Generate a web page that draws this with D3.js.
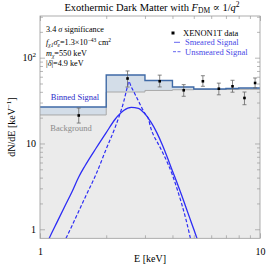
<!DOCTYPE html>
<html><head><meta charset="utf-8">
<script src="https://cdn.jsdelivr.net/npm/d3@7"></script>
<style>
body{margin:0;background:#fff}
svg text{font-family:"Liberation Serif","DejaVu Serif",serif}
</style></head>
<body><svg id="c" width="266" height="265"></svg>
<script>
// ---- data ----
const binEdges = [1,2,3,4,5,6,7,8,9,10];
const totalCounts = [26.6,62.9,54.2,45.6,43.2,43.2,43.7,44.3,44.3];
const bkgCounts   = [21.5,39.8,41.5,42.3,42.6,42.6,42.6,42.8,42.8];
const dataE   = [1.5,2.5,3.5,4.5,5.5,6.5,7.5,8.5,9.5];
const dataVal = [21.2,57.2,53.1,41.7,53.1,43.5,46.4,33.9,50.7];
const dataLo  = [17.3,45.5,45.6,35.5,46.4,36.9,39.6,28.3,44.4];
const dataHi  = [25.9,70.0,62.6,48.5,61.6,50.5,54.5,39.8,58.0];
const smearE   = [1.05,1.1,1.2,1.3,1.4,1.5,1.6,1.8,2.0,2.2,2.4,2.6,2.8,3.0,3.2,3.4,3.6,3.8,4.0,4.2,4.4,4.6,4.8,5.0,5.2,5.4];
const smearVal = [0.6,0.78,1.236,1.88,2.76,4.07,5.47,8.86,13.4,19.3,24.2,26.3,25.7,22.1,17.6,13.3,9.6,6.78,4.78,3.46,2.51,1.82,1.34,1.0,0.75,0.55];
const unsmE   = [1.25,1.3,1.4,1.5,1.6,1.8,2.0,2.2,2.3,2.4,2.5,2.53,2.6,2.7,2.8,3.0,3.1,3.2,3.3,3.4,3.6,3.8,4.0,4.2,4.4,4.6,4.8,4.9,5.0];
const unsmVal = [0.6,0.744,1.11,1.625,2.32,4.41,8.63,15.6,21.5,30.5,46.8,52.8,45.6,37.8,31.3,22.3,19.8,14.7,12.1,10.55,7.96,5.93,4.29,2.95,2.0,1.32,0.835,0.656,0.5];
const xMajor = [1,10];
const xMinor = [2,3,4,5,6,7,8,9];
const yMajor = [1,10,100];
const yMinor = [2,3,4,5,6,7,8,9,20,30,40,50,60,70,80,90,200,300];

// ---- layout ----
const L=40,R=260,T=16,B=238.3;
const svg=d3.select('#c');
const x=d3.scaleLog().domain([1,10]).range([L,R]);
const y=d3.scaleLog().domain([0.785,306]).range([B,T]);

svg.append('defs').append('clipPath').attr('id','clip')
  .append('rect').attr('x',L).attr('y',T).attr('width',R-L).attr('height',B-T);
const g=svg.append('g').attr('clip-path','url(#clip)');

const stepData=(vals)=>binEdges.map((e,i)=>({e,v:vals[Math.min(i,vals.length-1)]}));
const tot=stepData(totalCounts), bkg=stepData(bkgCounts);

// gray below background
g.append('path').datum(bkg)
 .attr('d',d3.area().curve(d3.curveStepAfter).x(d=>x(d.e)).y0(B+5).y1(d=>y(d.v)))
 .attr('fill','#ebebeb');
// blue between background and total
const both=binEdges.map((e,i)=>({e,t:tot[i].v,b:bkg[i].v}));
g.append('path').datum(both)
 .attr('d',d3.area().curve(d3.curveStepAfter).x(d=>x(d.e)).y0(d=>y(d.b)).y1(d=>y(d.t)))
 .attr('fill','#d3dde8');
g.append('path').datum(bkg)
 .attr('d',d3.line().curve(d3.curveStepAfter).x(d=>x(d.e)).y(d=>y(d.v)))
 .attr('fill','none').attr('stroke','#a8a8a8').attr('stroke-width',1);
g.append('path').datum(tot)
 .attr('d',d3.line().curve(d3.curveStepAfter).x(d=>x(d.e)).y(d=>y(d.v)))
 .attr('fill','none').attr('stroke','#3f6aa6').attr('stroke-width',1.4);

// curves
const cl=d3.line().curve(d3.curveMonotoneX).x(d=>x(d[0])).y(d=>y(d[1]));
g.append('path').datum(smearE.map((e,i)=>[e,smearVal[i]]))
 .attr('d',cl).attr('fill','none').attr('stroke','#2d2df5').attr('stroke-width',1.3);
g.append('path').datum(unsmE.map((e,i)=>[e,unsmVal[i]]))
 .attr('d',cl).attr('fill','none').attr('stroke','#2d2df5').attr('stroke-width',1.2)
 .attr('stroke-dasharray','3.5,2');

// data points
const pts=g.append('g');
dataE.forEach((e,i)=>{
  const cx=x(e);
  pts.append('line').attr('x1',cx).attr('x2',cx).attr('y1',y(dataLo[i])).attr('y2',y(dataHi[i]))
    .attr('stroke','#666').attr('stroke-width',0.8);
  [dataLo[i],dataHi[i]].forEach(v=>pts.append('line').attr('x1',cx-2).attr('x2',cx+2)
    .attr('y1',y(v)).attr('y2',y(v)).attr('stroke','#666').attr('stroke-width',0.8));
  pts.append('rect').attr('x',cx-1.3).attr('y',y(dataVal[i])-1.3).attr('width',2.6).attr('height',2.6).attr('fill','#000');
});

// frame
svg.append('rect').attr('x',L).attr('y',T).attr('width',R-L).attr('height',B-T)
  .attr('fill','none').attr('stroke','#999').attr('stroke-width',0.8);

// axes (ticks inside)
function styleAxis(sel){sel.select('.domain').remove();sel.selectAll('line').attr('stroke','#999').attr('stroke-width',0.7);
  sel.selectAll('text').attr('fill','#000').attr('font-size',10).attr('font-family','Liberation Serif');}
svg.append('g').attr('transform',`translate(0,${B})`).call(d3.axisBottom(x).tickValues(xMajor).tickSize(-5).tickPadding(10).tickFormat(d3.format('d'))).call(styleAxis);
svg.append('g').attr('transform',`translate(0,${B})`).call(d3.axisBottom(x).tickValues(xMinor).tickSize(-3).tickFormat('')).call(styleAxis);
svg.append('g').attr('transform',`translate(0,${T})`).call(d3.axisTop(x).tickValues(xMajor).tickSize(-5).tickFormat('')).call(styleAxis);
svg.append('g').attr('transform',`translate(0,${T})`).call(d3.axisTop(x).tickValues(xMinor).tickSize(-3).tickFormat('')).call(styleAxis);
const yl=svg.append('g').attr('transform',`translate(${L},0)`).call(d3.axisLeft(y).tickValues(yMajor).tickSize(-5).tickPadding(4).tickFormat(()=>'')).call(styleAxis);
svg.append('g').attr('transform',`translate(${L},0)`).call(d3.axisLeft(y).tickValues(yMinor).tickSize(-3).tickFormat('')).call(styleAxis);
svg.append('g').attr('transform',`translate(${R},0)`).call(d3.axisRight(y).tickValues(yMajor).tickSize(-5).tickFormat('')).call(styleAxis);
svg.append('g').attr('transform',`translate(${R},0)`).call(d3.axisRight(y).tickValues(yMinor).tickSize(-3).tickFormat('')).call(styleAxis);
// y labels with superscript
yl.selectAll('.tick').each(function(d){
  const t=d3.select(this).select('text').attr('font-size',10).attr('x',-4);
  const ex=Math.round(Math.log10(d));
  if(ex===0) t.text('1');
  else if(ex===1) t.text('10');
  else {t.text('10');t.append('tspan').attr('dy',-4).attr('font-size',7).text(ex);}
});

// axis titles
svg.append('text').attr('x',150).attr('y',262).attr('text-anchor','middle').attr('font-size',10).text('E [keV]');
svg.append('text').attr('transform','translate(15,127) rotate(-90)').attr('text-anchor','middle').attr('font-size',10)
  .call(t=>{t.append('tspan').text('dN/dE [keV');t.append('tspan').attr('dy',-4).attr('font-size',7).text('\u22121');t.append('tspan').attr('dy',4).text(']');});

// title
const tt=svg.append('text').attr('x',152).attr('y',11).attr('text-anchor','middle').attr('font-size',10.5);
tt.append('tspan').text('Exothermic Dark Matter with ');
tt.append('tspan').attr('font-style','italic').text('F');
tt.append('tspan').attr('dy',2).attr('font-size',7.5).text('DM');
tt.append('tspan').attr('dy',-2).text(' \u221D 1/');
tt.append('tspan').attr('font-style','italic').text('q');
tt.append('tspan').attr('dy',-4).attr('font-size',7.5).text('2');

// annotation
const fs=8.2;
svg.append('text').attr('x',46).attr('y',32).attr('font-size',fs)
  .call(t=>{t.append('tspan').text('3.4 ');t.append('tspan').attr('font-style','italic').text('\u03C3');t.append('tspan').text(' significance');});
svg.append('text').attr('x',46).attr('y',45).attr('font-size',fs)
  .call(t=>{t.append('tspan').attr('font-style','italic').text('f');
    t.append('tspan').attr('dy',1.5).attr('font-size',5.5).attr('font-style','italic').text('\u03C71');
    t.append('tspan').attr('dy',-1.5).attr('font-style','italic').text('\u03C3\u0304');
    t.append('tspan').attr('dy',1.5).attr('font-size',5.5).attr('font-style','italic').text('e');
    t.append('tspan').attr('dy',-1.5).text('=1.3\u00D710');
    t.append('tspan').attr('dy',-3.5).attr('font-size',5.5).text('\u221243');
    t.append('tspan').attr('dy',3.5).text(' cm');
    t.append('tspan').attr('dy',-3.5).attr('font-size',5.5).text('2');});
svg.append('text').attr('x',46).attr('y',56).attr('font-size',fs)
  .call(t=>{t.append('tspan').attr('font-style','italic').text('m');
    t.append('tspan').attr('dy',1.5).attr('font-size',5.5).attr('font-style','italic').text('\u03C7');
    t.append('tspan').attr('dy',-1.5).text('=550 keV');});
svg.append('text').attr('x',46).attr('y',65.5).attr('font-size',fs)
  .call(t=>{t.append('tspan').text('|');t.append('tspan').attr('font-style','italic').text('\u03B4');t.append('tspan').text('|=4.9 keV');});

// legend
svg.append('rect').attr('x',171.5).attr('y',31.5).attr('width',3).attr('height',3).attr('fill','#000');
svg.append('text').attr('x',183).attr('y',36).attr('font-size',8.5).text('XENON1T data');
svg.append('line').attr('x1',174).attr('x2',180).attr('y1',42.3).attr('y2',42.3).attr('stroke','#5555ee').attr('stroke-width',0.9);
svg.append('text').attr('x',185).attr('y',45.3).attr('font-size',8.5).attr('fill','#4a4ae6').text('Smeared Signal');
svg.append('line').attr('x1',173).attr('x2',181.5).attr('y1',51.7).attr('y2',51.7).attr('stroke','#5555ee').attr('stroke-width',0.9).attr('stroke-dasharray','3,1.5');
svg.append('text').attr('x',185).attr('y',54.7).attr('font-size',8.5).attr('fill','#4a4ae6').text('Unsmeared Signal');

// in-plot labels
svg.append('text').attr('x',75).attr('y',99.5).attr('text-anchor','middle').attr('font-size',8.5).attr('fill','#2a2ac8').text('Binned Signal');
svg.append('text').attr('x',71).attr('y',130.5).attr('text-anchor','middle').attr('font-size',8.5).attr('fill','#8a8a8a').text('Background');
</script></body></html>
